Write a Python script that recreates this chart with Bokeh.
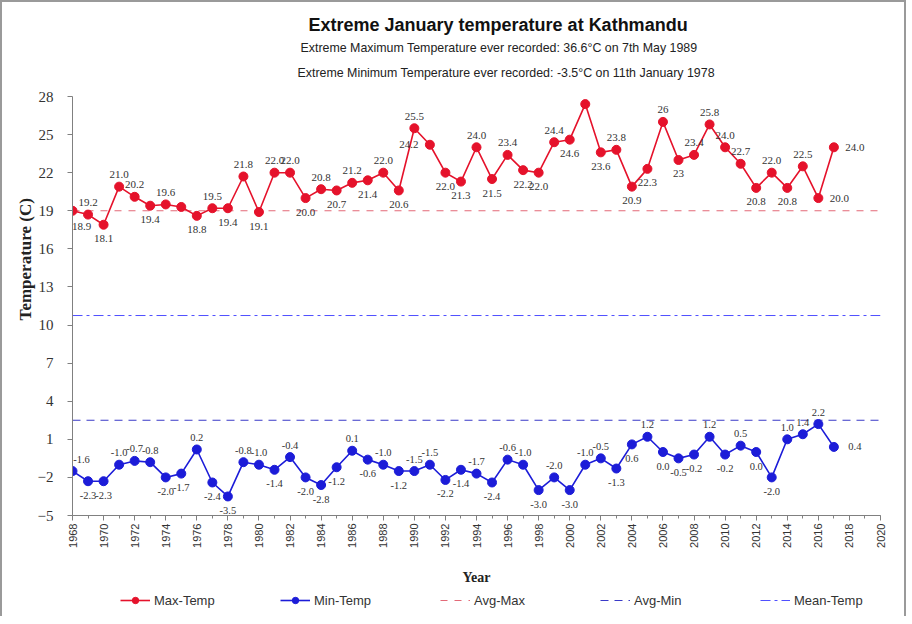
import math
from bokeh.plotting import figure
from bokeh.layouts import column
from bokeh.models import (ColumnDataSource, LabelSet, Title, Legend, LegendItem,
                          FixedTicker, Range1d)
from bokeh.embed import file_html
from bokeh.resources import INLINE

# ---------------- data ----------------
years = list(range(1968, 2018))

max_temp = [19.0, 18.7, 17.9, 20.9, 20.1, 19.4, 19.5, 19.3, 18.6, 19.2,
            19.2, 21.7, 18.9, 22.0, 22.0, 20.0, 20.7, 20.6, 21.2, 21.4,
            22.0, 20.6, 25.5, 24.2, 22.0, 21.3, 24.0, 21.5, 23.4, 22.2,
            22.0, 24.4, 24.6, 27.4, 23.6, 23.8, 20.9, 22.3, 26.0, 23.0,
            23.4, 25.8, 24.0, 22.7, 20.8, 22.0, 20.8, 22.5, 20.0, 24.0]

min_temp = [-1.5, -2.3, -2.3, -1.0, -0.7, -0.8, -2.0, -1.7, 0.2, -2.4,
            -3.5, -0.8, -1.0, -1.4, -0.4, -2.0, -2.6, -1.2, 0.1, -0.6,
            -1.0, -1.5, -1.5, -1.0, -2.2, -1.4, -1.7, -2.4, -0.6, -1.0,
            -3.0, -2.0, -3.0, -1.0, -0.5, -1.3, 0.6, 1.2, 0.0, -0.5,
            -0.2, 1.2, -0.2, 0.5, 0.0, -2.0, 1.0, 1.4, 2.2, 0.4]

max_text = ["18.9", "19.2", "18.1", "21.0", "20.2", "19.4", "19.6", "", "18.8", "19.5",
            "19.4", "21.8", "19.1", "22.0", "22.0", "20.0", "20.8", "20.7", "21.2", "21.4",
            "22.0", "20.6", "25.5", "24.2", "22.0", "21.3", "24.0", "21.5", "23.4", "22.2",
            "22.0", "24.4", "24.6", "27.4", "23.6", "23.8", "20.9", "22.3", "26", "23",
            "23.4", "25.8", "24.0", "22.7", "20.8", "22.0", "20.8", "22.5", "20.0", "24.0"]

min_text = ["-1.6", "-2.3", "-2.3", "-1.0", "-0.7", "-0.8", "-2.0", "-1.7", "0.2", "-2.4",
            "-3.5", "-0.8", "-1.0", "-1.4", "-0.4", "-2.0", "-2.8", "-1.2", "0.1", "-0.6",
            "-1.0", "-1.2", "-1.5", "-1.5", "-2.2", "-1.4", "-1.7", "-2.4", "-0.6", "-1.0",
            "-3.0", "-2.0", "-3.0", "-1.0", "-0.5", "-1.3", "0.6", "1.2", "0.0", "-0.5",
            "-0.2", "1.2", "-0.2", "0.5", "0.0", "-2.0", "1.0", "1.4", "2.2", "0.4"]

avg_max = 19.0
avg_min = 2.5
mean_temp = (avg_max + avg_min) / 2

y_ticks = list(range(-5, 29, 3))
x_ticks = list(range(1968, 2021, 2))
x_minor = list(range(1968, 2021, 1))

# label placement: a above, b below, r right, l left, c below-right, d above-right
max_side = ["c", "a", "b", "a", "a", "b", "a", "b", "b", "a",
            "b", "a", "b", "a", "a", "b", "a", "b", "a", "b",
            "a", "b", "a", "l", "b", "b", "a", "b", "a", "b",
            "b", "a", "b", "a", "b", "a", "b", "b", "a", "b",
            "a", "a", "a", "a", "b", "a", "b", "a", "r", "r"]
min_side = ["d", "b", "b", "a", "a", "a", "b", "b", "a", "b",
            "b", "a", "a", "b", "a", "b", "b", "b", "a", "b",
            "a", "b", "a", "a", "b", "b", "a", "b", "a", "a",
            "b", "a", "b", "a", "a", "b", "b", "a", "b", "b",
            "b", "a", "b", "a", "b", "b", "a", "a", "a", "r"]

OFFS = {"a": (0, 12), "b": (0, -14), "r": (21, 0), "l": (-21, 0),
        "c": (9, -16), "d": (9, 12)}

# ---------------- main figure ----------------
p = figure(width=902, height=586, x_range=Range1d(1968, 2020), y_range=Range1d(-5, 28),
           output_backend="svg", toolbar_location=None, title=None,
           min_border_left=70, min_border_right=24, min_border_top=94, min_border_bottom=73,
           background_fill_color="white", border_fill_color="white",
           outline_line_color=None)

p.xgrid.visible = False
p.ygrid.visible = False

RED = "#e5122b"
BLUE = "#1c1cd8"
AVGMAX_C = "#e36a78"
AVGMIN_C = "#3a3ac8"
MEAN_C = "#5050ff"

p.line([1968, 2020], [avg_max, avg_max], line_color=AVGMAX_C, line_dash="7 7", line_width=1.2)
p.line([1968, 2020], [avg_min, avg_min], line_color=AVGMIN_C, line_dash="8 6", line_width=1.2)
p.line([1968, 2020], [mean_temp, mean_temp], line_color=MEAN_C, line_dash="10 4 3 4", line_width=1.0)

src_max = ColumnDataSource(dict(x=years, y=max_temp))
src_min = ColumnDataSource(dict(x=years, y=min_temp))
p.line("x", "y", source=src_max, line_color=RED, line_width=1.6)
p.scatter("x", "y", source=src_max, size=9, fill_color=RED, line_color=RED)
p.line("x", "y", source=src_min, line_color=BLUE, line_width=1.6)
p.scatter("x", "y", source=src_min, size=9, fill_color=BLUE, line_color=BLUE)

lab_max = ColumnDataSource(dict(x=years, y=max_temp, t=max_text,
                                xo=[OFFS[s][0] for s in max_side],
                                yo=[OFFS[s][1] for s in max_side]))
lab_min = ColumnDataSource(dict(x=years, y=min_temp, t=min_text,
                                xo=[OFFS[s][0] for s in min_side],
                                yo=[OFFS[s][1] for s in min_side]))

p.add_layout(LabelSet(x="x", y="y", text="t", source=lab_max, x_offset="xo", y_offset="yo",
                      text_align="center", text_baseline="middle",
                      text_font="Liberation Serif", text_font_size="11px", text_color="#333333"))
p.add_layout(LabelSet(x="x", y="y", text="t", source=lab_min, x_offset="xo", y_offset="yo",
                      text_align="center", text_baseline="middle",
                      text_font="Liberation Sans", text_font_size="10.5px", text_color="#333333"))

# axes
p.yaxis.ticker = FixedTicker(ticks=y_ticks)
p.xaxis.ticker = FixedTicker(ticks=x_ticks, minor_ticks=x_minor)
p.xaxis.major_label_orientation = math.pi / 2
for ax in (p.xaxis[0], p.yaxis[0]):
    ax.axis_line_color = "#808080"
    ax.major_tick_line_color = "#808080"
    ax.minor_tick_line_color = "#808080"
    ax.major_tick_in = 0
    ax.major_tick_out = 5
    ax.minor_tick_in = 0
    ax.major_label_text_color = "#333333"
    ax.axis_label_text_color = "#222222"
    ax.axis_label_text_font = "Liberation Serif"
    ax.axis_label_text_font_style = "bold"

p.yaxis.minor_tick_out = 0
p.xaxis.minor_tick_out = 3
p.yaxis.major_label_text_font = "Liberation Serif"
p.yaxis.major_label_text_font_size = "15px"
p.yaxis.major_label_standoff = 14
p.yaxis.axis_label = "\u00a0" * 22 + "Temperature (C)"
p.yaxis.axis_label_text_font_size = "17px"
p.yaxis.axis_label_standoff = 0

p.xaxis.major_label_text_font = "Liberation Sans"
p.xaxis.major_label_text_font_size = "11px"
p.xaxis.major_label_standoff = 3
p.xaxis.axis_label = "Year"
p.xaxis.axis_label_text_font_size = "14px"
p.xaxis.axis_label_standoff = 19


def make_title(text, offset, size, style, color, standoff):
    t = Title(text=text, align="left", offset=offset, text_font="Liberation Sans",
              text_font_size=size, text_font_style=style, text_color=color)
    try:
        t.standoff = standoff
    except (AttributeError, ValueError):
        pass
    return t


# titles (first added is closest to the plot)
p.add_layout(make_title("Extreme Minimum Temperature ever recorded: -3.5\u00b0C on 11th January 1978",
                        225, "12.4px", "normal", "#222222", 32.4), "above")
p.add_layout(make_title("Extreme Maximum Temperature ever recorded: 36.6\u00b0C on 7th May 1989",
                        228, "12.4px", "normal", "#222222", -13.6), "above")
p.add_layout(make_title("Extreme  January temperature at Kathmandu",
                        236, "18px", "bold", "#111111", 22.2), "above")

# ---------------- legend strip ----------------
q = figure(width=902, height=28, x_range=Range1d(0, 1), y_range=Range1d(0, 1),
           output_backend="svg", toolbar_location=None, title=None,
           x_axis_location=None, y_axis_location=None, min_border=0,
           background_fill_color="white", border_fill_color="white", outline_line_color=None)
q.xgrid.visible = False
q.ygrid.visible = False
g1 = q.line("x", "y", source=src_max, line_color=RED, line_width=1.6)
g2 = q.scatter("x", "y", source=src_max, size=7, fill_color=RED, line_color=RED)
g3 = q.line("x", "y", source=src_min, line_color=BLUE, line_width=1.6)
g4 = q.scatter("x", "y", source=src_min, size=7, fill_color=BLUE, line_color=BLUE)
g5 = q.line("x", "y", source=src_max, line_color=AVGMAX_C, line_dash="7 7", line_width=1.2)
g6 = q.line("x", "y", source=src_min, line_color=AVGMIN_C, line_dash="8 6", line_width=1.2)
g7 = q.line("x", "y", source=src_min, line_color=MEAN_C, line_dash="10 4 3 4", line_width=1.0)

legend = Legend(items=[
    LegendItem(label="Max-Temp", renderers=[g1, g2]),
    LegendItem(label="Min-Temp", renderers=[g3, g4]),
    LegendItem(label="Avg-Max", renderers=[g5]),
    LegendItem(label="Avg-Min", renderers=[g6]),
    LegendItem(label="Mean-Temp", renderers=[g7]),
], orientation="horizontal", location=(48, 8), border_line_color=None,
    background_fill_alpha=0, glyph_width=30, glyph_height=16, label_width=100,
    label_standoff=4, spacing=26, padding=0, margin=0,
    label_text_font="Liberation Sans", label_text_font_size="13px", label_text_color="#333333")
q.add_layout(legend, "center")

layout = column(p, q, spacing=0,
                styles={"border-top": "2px solid #9a9a9a", "border-left": "2px solid #9a9a9a",
                        "border-right": "2px solid #9a9a9a"})
open("out.html", "w").write(file_html(layout, INLINE))
